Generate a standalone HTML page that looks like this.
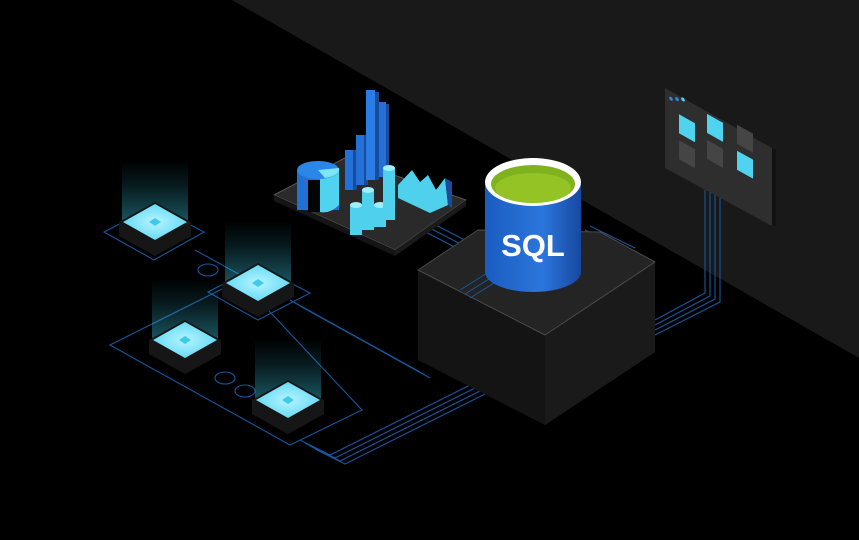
<!DOCTYPE html>
<html><head><style>html,body{margin:0;padding:0;background:#000;overflow:hidden}svg{display:block}</style></head>
<body>
<svg width="859" height="540" viewBox="0 0 859 540" xmlns="http://www.w3.org/2000/svg">
<defs>
<linearGradient id="glow" x1="0" y1="1" x2="0" y2="0"><stop offset="0" stop-color="#3fd3f0" stop-opacity="0.4"/><stop offset="0.6" stop-color="#3fd3f0" stop-opacity="0.12"/><stop offset="1" stop-color="#3fd3f0" stop-opacity="0"/></linearGradient>
<linearGradient id="cyl" x1="0" x2="1"><stop offset="0" stop-color="#1a5cc0"/><stop offset="0.6" stop-color="#2b76dc"/><stop offset="1" stop-color="#1748a0"/></linearGradient>
<radialGradient id="tile" cx="0.5" cy="0.5" r="0.6"><stop offset="0" stop-color="#b8f4ff"/><stop offset="1" stop-color="#55d6f3"/></radialGradient>
</defs>
<rect width="859" height="540" fill="#000"/>
<polygon points="232,0 859,0 859,358" fill="#191919"/>

<!-- blue connector lines -->
<g fill="none" stroke="#17579e" stroke-width="1.1">
<path d="M104,232 L154,206 L204,232 L154,260 Z"/>
<path d="M208,292 L258,266 L310,293 L258,320 Z"/>
<path d="M110,345 L240,280 L362,410 L290,445 Z" />
<path d="M290,300 L420,372 M295,303 L425,375 M300,306 L430,378"/>
<path d="M195,250 L280,297"/>
<path d="M300,440 L330,455 L470,385 L470,300 M305,443 L335,458 L475,388 L475,298 M310,446 L340,461 L480,391 L480,296 M315,449 L345,464 L485,394 L485,294"/>
<path d="M418,228 L470,255 M424,225 L476,252 M430,222 L482,249"/>
<path d="M655,320 L705,293 L705,190 M655,325 L710,296 L710,190 M655,330 L715,299 L715,190 M655,335 L720,302 L720,190"/>
<path d="M585,230 L630,252 M590,226 L635,248"/>
</g>
<g fill="none" stroke="#17579e" stroke-width="1.1">
<ellipse cx="208" cy="270" rx="10" ry="6"/>
<ellipse cx="225" cy="378" rx="10" ry="6"/>
<ellipse cx="245" cy="391" rx="10" ry="6"/>
</g>

<!-- glowing tiles -->
<g>
<g transform="translate(155,222)">
<rect x="-33" y="-62" width="66" height="62" fill="url(#glow)"/>
<polygon points="-36,0 0,-20 36,0 36,14 0,34 -36,14" fill="#161616"/>
<polygon points="-32,0 0,-18 32,0 0,18" fill="url(#tile)"/>
<polygon points="-6,0 0,-4 6,0 0,4" fill="#3ecbe8"/>
</g>
<g transform="translate(258,283)">
<rect x="-33" y="-62" width="66" height="62" fill="url(#glow)"/>
<polygon points="-36,0 0,-20 36,0 36,14 0,34 -36,14" fill="#161616"/>
<polygon points="-32,0 0,-18 32,0 0,18" fill="url(#tile)"/>
<polygon points="-6,0 0,-4 6,0 0,4" fill="#3ecbe8"/>
</g>
<g transform="translate(185,340)">
<rect x="-33" y="-62" width="66" height="62" fill="url(#glow)"/>
<polygon points="-36,0 0,-20 36,0 36,14 0,34 -36,14" fill="#161616"/>
<polygon points="-32,0 0,-18 32,0 0,18" fill="url(#tile)"/>
<polygon points="-6,0 0,-4 6,0 0,4" fill="#3ecbe8"/>
</g>
<g transform="translate(288,400)">
<rect x="-33" y="-62" width="66" height="62" fill="url(#glow)"/>
<polygon points="-36,0 0,-20 36,0 36,14 0,34 -36,14" fill="#161616"/>
<polygon points="-32,0 0,-18 32,0 0,18" fill="url(#tile)"/>
<polygon points="-6,0 0,-4 6,0 0,4" fill="#3ecbe8"/>
</g>
</g>

<!-- chart tray -->
<polygon points="274,195 345,158 466,200 395,250" fill="#2a2a2a" stroke="#555" stroke-width="1" stroke-linejoin="round"/>
<polygon points="274,195 395,250 395,256 274,201" fill="#151515"/>
<polygon points="395,250 466,200 466,206 395,256" fill="#1a1a1a"/>
<g>
<rect x="345" y="150" width="8" height="40" fill="#2370d8"/><rect x="353" y="150" width="4" height="40" fill="#1a4c9a"/>
<rect x="356" y="135" width="8" height="50" fill="#2370d8"/><rect x="364" y="135" width="4" height="50" fill="#1a4c9a"/>
<rect x="366" y="90" width="9" height="90" fill="#2a7de6"/><rect x="375" y="92" width="4" height="88" fill="#1a4c9a"/>
<rect x="379" y="102" width="7" height="75" fill="#2370d8"/><rect x="386" y="104" width="3" height="73" fill="#1a4c9a"/>
</g>
<rect x="297" y="170" width="42" height="40" fill="#2270d4"/>
<rect x="308" y="180" width="12" height="32" fill="#050505"/>
<path d="M320,175 L339,168 L339,205 Q330,214 320,212 Z" fill="#4fd3ef"/>
<ellipse cx="318" cy="170" rx="21" ry="9" fill="#2a86e8"/>
<path d="M318,170 L339,168 A21,9 0 0 1 325,178 Z" fill="#7ee6f7"/>
<g fill="#4fd0ec">
<rect x="350" y="205" width="12" height="30"/><ellipse cx="356" cy="205" rx="6" ry="3" fill="#9df0fb"/>
<rect x="362" y="190" width="12" height="40"/><ellipse cx="368" cy="190" rx="6" ry="3" fill="#9df0fb"/>
<rect x="374" y="205" width="12" height="22"/><ellipse cx="380" cy="205" rx="6" ry="3" fill="#9df0fb"/>
<rect x="383" y="168" width="12" height="52"/><ellipse cx="389" cy="168" rx="6" ry="3" fill="#9df0fb"/>
</g>
<polygon points="398,185 412,170 420,182 428,175 436,190 445,178 448,205 430,213 398,198" fill="#4fd0ec"/>
<polygon points="445,178 452,182 452,208 448,205" fill="#1a4c9a"/>

<!-- SQL block -->
<polygon points="418,270 418,360 545,425 655,352 655,262 545,335" fill="#141414"/>
<polygon points="545,335 655,262 655,352 545,425" fill="#1a1a1a"/>
<polygon points="418,270 478,230 600,232 655,262 545,335" fill="#242424" stroke="#4a4a4a" stroke-width="1" stroke-linejoin="round"/>
<g fill="none" stroke="#17579e" stroke-width="1"><path d="M460,290 L505,262 M465,294 L510,266 M470,298 L515,270"/></g>
<path d="M485,182 L485,272 A48,20 0 0 0 581,272 L581,182 Z" fill="url(#cyl)"/>
<ellipse cx="533" cy="182" rx="48" ry="24" fill="#fff"/>
<ellipse cx="533" cy="184" rx="42" ry="19" fill="#7fb21c"/>
<ellipse cx="533" cy="188" rx="38" ry="15" fill="#93c325"/>
<text x="533" y="256" text-anchor="middle" font-family="Liberation Sans, sans-serif" font-weight="bold" font-size="31" fill="#fff">SQL</text>

<!-- window panel -->
<polygon points="665,88 772,148 772,226 665,168" fill="#2e2e2e"/>
<polygon points="772,148 776,150 776,226 772,226" fill="#111"/>
<g transform="matrix(1,0.56,0,1,0,0)">
<circle cx="671" cy="-277" r="1.8" fill="#2a8ae8"/>
<circle cx="677" cy="-280" r="1.8" fill="#2a8ae8"/>
<circle cx="683" cy="-283" r="1.8" fill="#4fd3ef"/>
<rect x="679" y="-266" width="16" height="19" fill="#4fd3ef"/>
<rect x="707" y="-282" width="16" height="19" fill="#4fd3ef"/>
<rect x="679" y="-240" width="16" height="19" fill="#454545"/>
<rect x="707" y="-256" width="16" height="19" fill="#454545"/>
<rect x="737" y="-288" width="16" height="19" fill="#454545"/>
<rect x="737" y="-262" width="16" height="19" fill="#4fd3ef"/>
</g>
</svg>
</body></html>
